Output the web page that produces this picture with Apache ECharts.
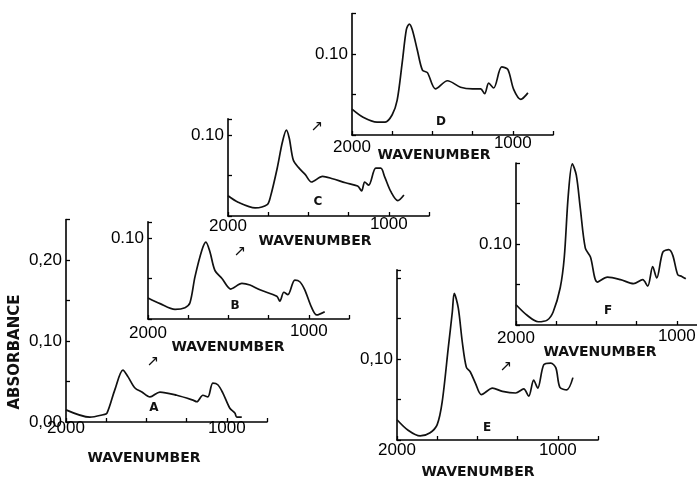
<!DOCTYPE html>
<html>
<head>
<meta charset="utf-8">
<script src="https://cdn.jsdelivr.net/npm/echarts@6/dist/echarts.min.js"></script>
<style>html,body{margin:0;padding:0;background:#fff}#c{width:697px;height:482px}</style>
</head>
<body>
<div id="c"></div>
<script>
// ---- data (wavenumber, absorbance) ----
const wnA  = [2000,1851,1770,1745,1696,1646,1615,1571,1528,1478,1416,1311,1211,1186,1149,1118,1087,1056,1025,981,950,938,907];
const absA = [0.015,0.006,0.009,0.011,0.040,0.064,0.056,0.042,0.037,0.031,0.037,0.033,0.027,0.025,0.033,0.031,0.048,0.046,0.036,0.017,0.011,0.006,0.006];

const wnB  = [2000,1925,1832,1770,1739,1708,1665,1640,1615,1584,1540,1485,1416,1366,1304,1199,1180,1155,1130,1087,1056,1025,982,951,901];
const absB = [0.026,0.019,0.012,0.014,0.020,0.052,0.085,0.095,0.083,0.060,0.050,0.037,0.044,0.042,0.036,0.028,0.022,0.033,0.030,0.048,0.046,0.036,0.014,0.005,0.009];

const wnC  = [2000,1937,1831,1756,1737,1694,1662,1637,1619,1594,1562,1519,1481,1412,1350,1269,1194,1169,1150,1125,1081,1050,1025,987,944,906];
const absC = [0.025,0.017,0.010,0.014,0.023,0.059,0.091,0.106,0.096,0.069,0.060,0.051,0.042,0.049,0.046,0.041,0.037,0.031,0.042,0.038,0.059,0.059,0.048,0.030,0.019,0.026];

const wnD  = [2000,1931,1844,1794,1750,1719,1688,1662,1644,1625,1594,1562,1531,1481,1406,1325,1250,1200,1175,1150,1119,1069,1031,994,950,906];
const absD = [0.032,0.022,0.016,0.016,0.025,0.043,0.089,0.130,0.137,0.130,0.105,0.080,0.077,0.057,0.067,0.059,0.057,0.057,0.051,0.064,0.058,0.084,0.081,0.056,0.044,0.052];

const wnE  = [2000,1931,1856,1794,1750,1719,1681,1656,1644,1619,1594,1569,1544,1512,1475,1406,1344,1262,1212,1181,1150,1125,1087,1044,1012,987,944,906];
const absE = [0.025,0.012,0.005,0.009,0.019,0.047,0.114,0.158,0.181,0.163,0.121,0.090,0.084,0.070,0.056,0.064,0.060,0.058,0.063,0.054,0.074,0.064,0.093,0.095,0.089,0.065,0.062,0.077];

const wnF  = [2000,1931,1862,1806,1769,1725,1700,1675,1650,1625,1600,1569,1537,1494,1431,1350,1269,1212,1181,1150,1125,1087,1050,1025,994,969,944];
const absF = [0.025,0.012,0.004,0.006,0.016,0.046,0.083,0.160,0.199,0.185,0.144,0.095,0.084,0.053,0.059,0.056,0.051,0.056,0.048,0.072,0.058,0.090,0.093,0.086,0.062,0.060,0.057];

const panelNames = ['A','B','C','D','E','F'];
const xTickLabels = [2000, 1000];
const xAxisTitle = 'WAVENUMBER';
const yAxisTitle = 'ABSORBANCE';

// ---- layout (positions / styles only) ----
const PX_PER_UNIT = 810;   // px per absorbance unit
const layout = [
  {wn: wnA, ab: absA, left: 66,  bottom: 422, ymax: 0.25, yl: [[0,'0,00'],[0.1,'0,10'],[0.2,'0,20']], off2000: 6,  off1000: 6,  title: [144, 458], letter: [154, 408], arrow: [153, 362]},
  {wn: wnB, ab: absB, left: 148, bottom: 319, ymax: 0.12, yl: [[0.1,'0.10']], off2000: 14, off1000: 12, title: [228, 347], letter: [235, 306], arrow: [240, 252]},
  {wn: wnC, ab: absC, left: 228, bottom: 216, ymax: 0.12, yl: [[0.1,'0.10']], off2000: 10, off1000: 8,  title: [315, 241], letter: [318, 202], arrow: [317, 127]},
  {wn: wnD, ab: absD, left: 352, bottom: 135, ymax: 0.15, yl: [[0.1,'0.10']], off2000: 12, off1000: 8,  title: [434, 155], letter: [441, 122], arrow: null},
  {wn: wnE, ab: absE, left: 397, bottom: 440, ymax: 0.21, yl: [[0.1,'0,10']], off2000: 10, off1000: 10, title: [478, 472], letter: [487, 428], arrow: [506, 367]},
  {wn: wnF, ab: absF, left: 516, bottom: 325, ymax: 0.20, yl: [[0.1,'0.10']], off2000: 13, off1000: 11, title: [600, 352], letter: [608, 311], arrow: null}
];

const XMIN = 750, XMAX = 2000;
const GRID_W = 201;
const LABEL_FONT = 'Liberation Sans, Arial, sans-serif';
const BOLD_FONT = 'DejaVu Sans, sans-serif';

const grids = [], xAxes = [], yAxes = [], series = [], graphics = [];

layout.forEach((p, i) => {
  const h = p.ymax * PX_PER_UNIT;
  grids.push({left: p.left, top: p.bottom - h, width: GRID_W, height: h, outerBoundsMode: 'none', containLabel: false});
  const base = Math.min(p.off2000, p.off1000) - 8.5;
  xAxes.push({
    gridIndex: i, type: 'value', min: XMIN, max: XMAX, interval: 250, inverse: true,
    axisLine: {show: true, onZero: false, lineStyle: {color: '#000', width: 1.6}},
    axisTick: {show: true, inside: true, length: 4, lineStyle: {color: '#000', width: 1.3}},
    splitLine: {show: false},
    axisLabel: {
      show: true, margin: base, color: '#000', fontSize: 17, fontFamily: LABEL_FONT,
      hideOverlap: false, showMinLabel: true, showMaxLabel: true,
      formatter: v => v === xTickLabels[0] ? '{a|' + v + '}' : (v === xTickLabels[1] ? '{b|' + v + '}' : ''),
      rich: {
        a: {fontSize: 17, fontFamily: LABEL_FONT, color: '#000', padding: [p.off2000 - 8.5 - base, 0, 0, 0]},
        b: {fontSize: 17, fontFamily: LABEL_FONT, color: '#000', padding: [p.off1000 - 8.5 - base, 0, 0, 0]}
      }
    }
  });
  yAxes.push({
    gridIndex: i, type: 'value', min: 0, max: p.ymax, interval: 0.05,
    axisLine: {show: true, onZero: false, lineStyle: {color: '#000', width: 1.6}},
    axisTick: {show: true, inside: true, length: 4, lineStyle: {color: '#000', width: 1.3}},
    splitLine: {show: false},
    axisLabel: {
      show: true, margin: 4, color: '#000', fontSize: 17, fontFamily: LABEL_FONT,
      showMinLabel: true, showMaxLabel: true,
      formatter: v => {
        for (const [t, s] of p.yl) if (Math.abs(v - t) < 1e-6) return s;
        return '';
      }
    }
  });
  series.push({
    name: panelNames[i], type: 'line', xAxisIndex: i, yAxisIndex: i,
    data: p.wn.map((w, k) => [w, p.ab[k]]),
    showSymbol: false, symbol: 'none', smooth: 0.3,
    lineStyle: {color: '#111', width: 1.7}, animation: false
  });
  graphics.push({
    type: 'text', x: p.title[0], y: p.title[1],
    style: {text: xAxisTitle, font: 'bold 14px ' + BOLD_FONT, fill: '#111', align: 'center', verticalAlign: 'middle', textAlign: 'center', textVerticalAlign: 'middle'}
  });
  graphics.push({
    type: 'text', x: p.letter[0], y: p.letter[1],
    style: {text: panelNames[i], font: 'bold 12px ' + BOLD_FONT, fill: '#111', align: 'center', verticalAlign: 'middle', textAlign: 'center', textVerticalAlign: 'middle'}
  });
  if (p.arrow) {
    graphics.push({
      type: 'text', x: p.arrow[0], y: p.arrow[1],
      style: {text: '\u2197', font: '15px ' + BOLD_FONT, fill: '#111', align: 'center', verticalAlign: 'middle', textAlign: 'center', textVerticalAlign: 'middle'}
    });
  }
});

graphics.push({
  type: 'text', x: 15, y: 352, rotation: Math.PI / 2,
  style: {text: yAxisTitle, font: 'bold 15px ' + BOLD_FONT, fill: '#111', align: 'center', verticalAlign: 'middle', textAlign: 'center', textVerticalAlign: 'middle'}
});

const chart = echarts.init(document.getElementById('c'), null, {renderer: 'canvas'});
chart.setOption({
  animation: false,
  backgroundColor: '#fff',
  grid: grids, xAxis: xAxes, yAxis: yAxes, series: series,
  graphic: graphics
});
</script>
</body>
</html>
